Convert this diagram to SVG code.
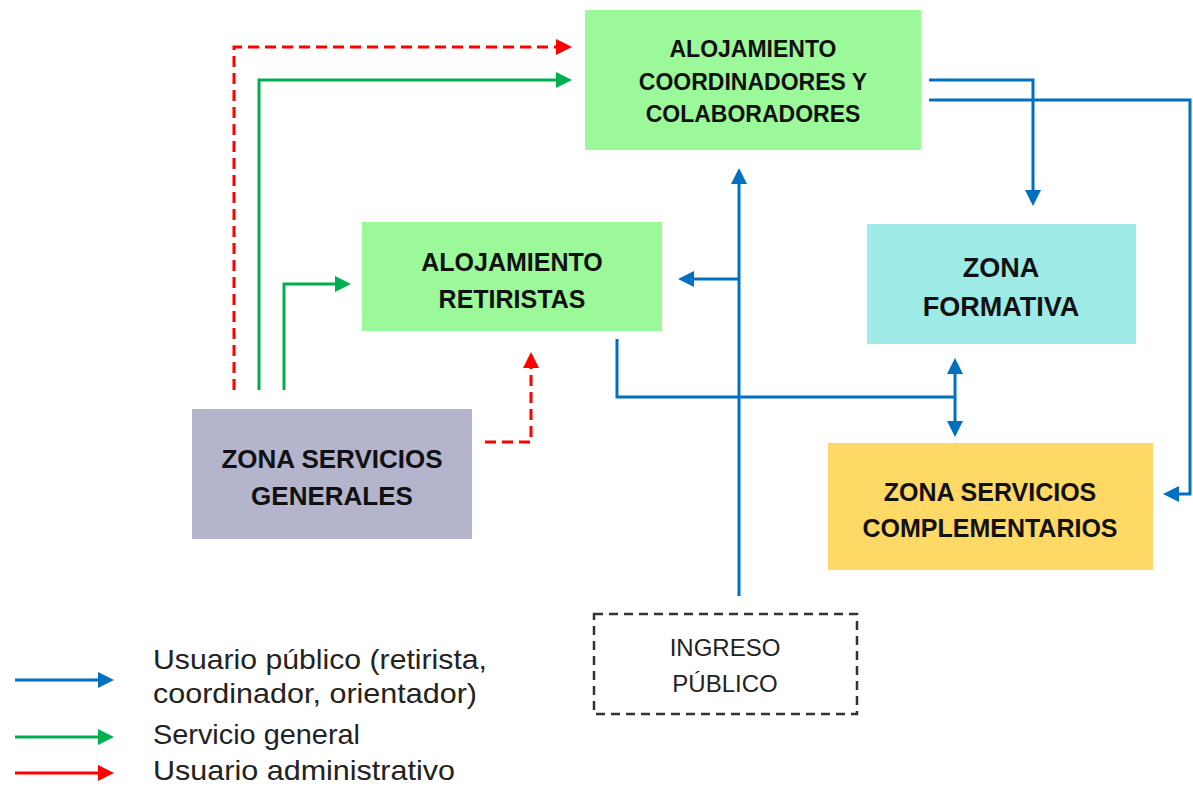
<svg xmlns="http://www.w3.org/2000/svg" width="1193" height="786" viewBox="0 0 1193 786">
<style>
.lbl{font-family:"Liberation Sans",Arial,sans-serif;font-weight:bold;fill:#111;text-anchor:middle}
.reg{font-family:"Liberation Sans",Arial,sans-serif;fill:#222}
.blue{fill:none;stroke:#0070C0;stroke-width:3}
.green{fill:none;stroke:#00B050;stroke-width:3}
.red{fill:none;stroke:#FF0000;stroke-width:3;stroke-dasharray:11 6}
</style>
<defs>
<marker id="ab" markerUnits="userSpaceOnUse" markerWidth="17" markerHeight="16" refX="1" refY="8" orient="auto-start-reverse"><path d="M0,0 L16,8 L0,16 z" fill="#0070C0"/></marker>
<marker id="ag" markerUnits="userSpaceOnUse" markerWidth="17" markerHeight="16" refX="1" refY="8" orient="auto"><path d="M0,0 L16,8 L0,16 z" fill="#00B050"/></marker>
<marker id="ar" markerUnits="userSpaceOnUse" markerWidth="17" markerHeight="16" refX="1" refY="8" orient="auto"><path d="M0,0 L16,8 L0,16 z" fill="#FF0000"/></marker>
</defs>
<rect width="1193" height="786" fill="#fff"/>

<g id="connectors">
<path class="red" d="M234,390 V47 H557" marker-end="url(#ar)"/>
<path class="green" d="M259,390 V80 H557" marker-end="url(#ag)"/>
<path class="green" d="M284,390 V284 H336" marker-end="url(#ag)"/>
<path class="red" d="M485,442 H531 V367" marker-end="url(#ar)"/>
<path class="blue" d="M739,596 V183" marker-end="url(#ab)"/>
<path class="blue" d="M739,279 H693" marker-end="url(#ab)"/>
<path class="blue" d="M929,80 H1033 V191" marker-end="url(#ab)"/>
<path class="blue" d="M929,100 H1190 V494 H1178" marker-end="url(#ab)"/>
<path class="blue" d="M617,339 V397 H955"/>
<path class="blue" d="M955,373 V422" marker-start="url(#ab)" marker-end="url(#ab)"/>
</g>

<g id="aloj-coord">
<rect x="585" y="10" width="336" height="140" fill="#9CF99A"/>
<text class="lbl" font-size="23" x="753" y="57">ALOJAMIENTO</text>
<text class="lbl" font-size="23" x="753" y="90">COORDINADORES Y</text>
<text class="lbl" font-size="23" x="753" y="122">COLABORADORES</text>
</g>

<g id="aloj-ret">
<rect x="362" y="222" width="300" height="109" fill="#9CF99A"/>
<text class="lbl" font-size="25" x="512" y="271">ALOJAMIENTO</text>
<text class="lbl" font-size="25" x="512" y="308">RETIRISTAS</text>
</g>

<g id="zona-gen">
<rect x="192" y="409" width="280" height="130" fill="#B4B4CD"/>
<text class="lbl" font-size="26" x="332" y="468">ZONA SERVICIOS</text>
<text class="lbl" font-size="26" x="332" y="505">GENERALES</text>
</g>

<g id="zona-form">
<rect x="867" y="224" width="269" height="120" fill="#9DEAE6"/>
<text class="lbl" font-size="27" x="1001" y="277">ZONA</text>
<text class="lbl" font-size="27" x="1001" y="316">FORMATIVA</text>
</g>

<g id="zona-comp">
<rect x="828" y="443" width="325" height="127" fill="#FFD966"/>
<text class="lbl" font-size="25" x="990" y="501">ZONA SERVICIOS</text>
<text class="lbl" font-size="25" x="990" y="537">COMPLEMENTARIOS</text>
</g>

<g id="ingreso">
<rect x="594" y="614" width="263" height="100" fill="none" stroke="#333" stroke-width="2.5" stroke-dasharray="9 6"/>
<text class="reg" font-size="24" x="725" y="656" text-anchor="middle" fill="#404040">INGRESO</text>
<text class="reg" font-size="24" x="725" y="692" text-anchor="middle" fill="#404040">PÚBLICO</text>
</g>

<g id="legend">
<path class="blue" d="M15,680 H99" marker-end="url(#ab)"/>
<path class="green" d="M15,737 H99" marker-end="url(#ag)"/>
<path d="M15,773 H99" fill="none" stroke="#FF0000" stroke-width="3" marker-end="url(#ar)"/>
<text class="reg" font-size="28" x="153" y="669" textLength="334" lengthAdjust="spacingAndGlyphs">Usuario público (retirista,</text>
<text class="reg" font-size="28" x="153" y="703" textLength="324" lengthAdjust="spacingAndGlyphs">coordinador, orientador)</text>
<text class="reg" font-size="28" x="153" y="744" textLength="207" lengthAdjust="spacingAndGlyphs">Servicio general</text>
<text class="reg" font-size="28" x="153" y="780" textLength="302" lengthAdjust="spacingAndGlyphs">Usuario administrativo</text>
</g>
</svg>
